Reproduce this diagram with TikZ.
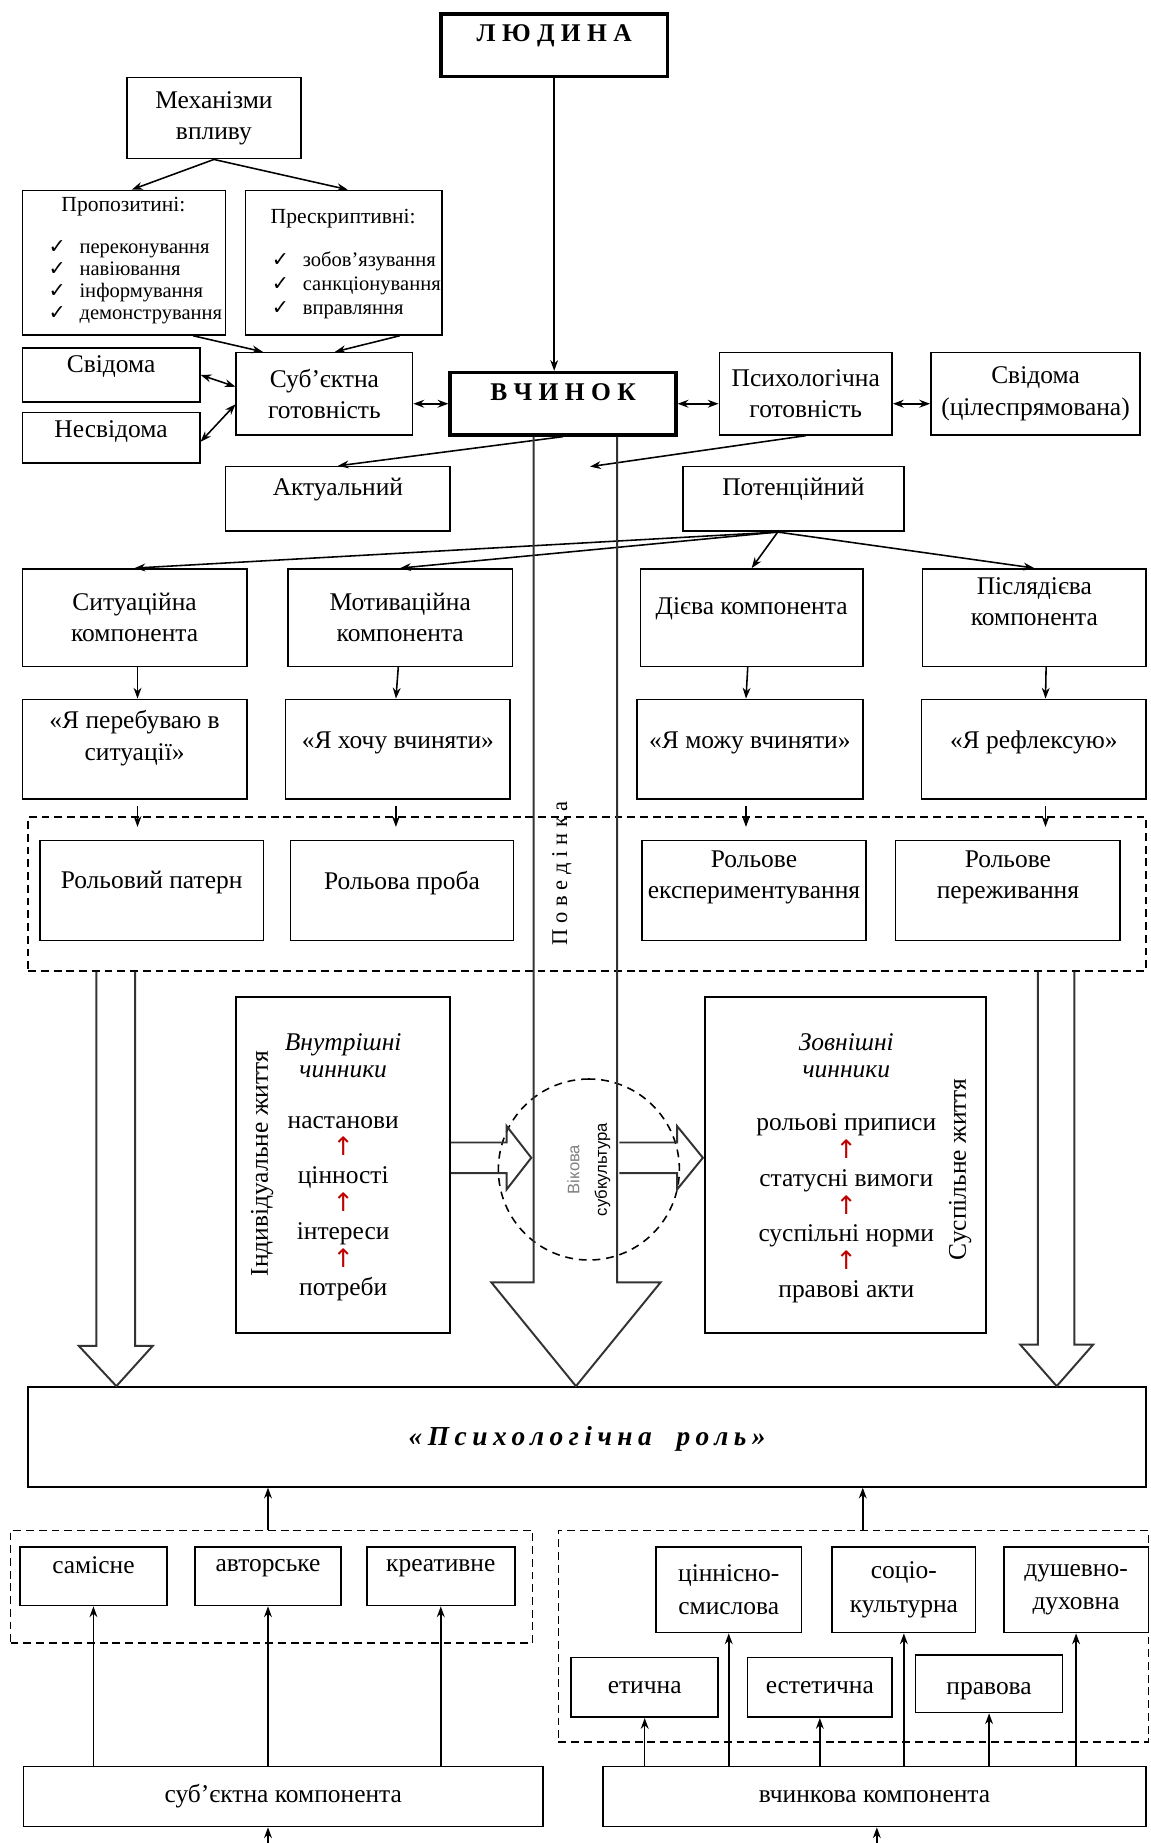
\documentclass[tikz,border=0pt]{standalone}
\usepackage{fontspec}
\setmainfont{Liberation Serif}
\newfontfamily\symfont{DejaVu Sans}
\newfontfamily\sansfont{Liberation Sans}
\newfontfamily\rolefont[LetterSpace=20]{Liberation Serif}
\usetikzlibrary{arrows.meta, positioning, shapes.geometric}

\newcommand{\chk}{{\symfont ✓}}
\newcommand{\redup}{{\color{red!75!black}\symfont ↑}}

\tikzset{
  corners/.style args={#1/#2/#3/#4}{at={({(#1+#3)/2},{(#2+#4)/2})},
    minimum width={(#3-#1)*0.6pt}, minimum height={(#4-#2)*0.6pt}},
  box/.style={draw, line width=0.8pt, inner sep=0pt, align=center,
    font=\fontsize{13}{16}\selectfont},
  heavy/.style={box, line width=1.8pt, font=\fontsize{13}{16}\selectfont\bfseries},
  dashbox/.style={draw, line width=0.8pt, inner sep=0pt, dash pattern=on 4pt off 2.5pt},
  txt/.style={inner sep=0pt, align=center, font=\fontsize{13}{16}\selectfont},
  listtxt/.style={inner sep=0pt, align=left, font=\fontsize{10.5}{11.2}\selectfont},
  arr/.style={->, line width=0.8pt},
  darr/.style={<->, line width=0.8pt},
  hollow/.style={draw=black!80, line width=1pt, line join=miter}
}

\begin{document}
\begin{tikzpicture}[x=0.6pt, y=-0.6pt, >={Stealth[length=5.5pt,width=4pt]}]
\useasboundingbox (0,0) rectangle (979,1568);

% top part
\node[heavy, corners=375/12/568/65, text depth=12.8pt] (lyud) {Л Ю Д И Н А};
\node[box, corners=108/66/256/135] (mech) {Механізми\\впливу};
\node[box, corners=19/162/192/285] (propoz) {};
\node[box, corners=209/162/376/285] (presk) {};
\node[txt, font=\fontsize{11}{13}\selectfont] (propoztitle) at (105,176) {Пропозитині:};
\node[listtxt, anchor=west] (propozlist) at (41,240)
  {\chk\hspace{7pt}переконування\\\chk\hspace{7pt}навіювання\\\chk\hspace{7pt}інформування\\\chk\hspace{7pt}демонстрування};
\node[txt, font=\fontsize{11}{13}\selectfont] (presktitle) at (292,186) {Прескриптивні:};
\node[listtxt, anchor=west, font=\fontsize{10.5}{12.3}\selectfont] (presklist) at (231,242.5)
  {\chk\hspace{7pt}зобов’язування\\\chk\hspace{7pt}санкціонування\\\chk\hspace{7pt}вправляння};

\node[box, corners=19/296/170/342, text depth=10.9pt] (svid) {Свідома};
\node[box, corners=19/351/170/394, text depth=9.1pt] (nesvid) {Несвідома};
\node[box, corners=201/300/351/370] (subj) {Суб’єктна\\готовність};
\node[heavy, corners=383/317/575/370, text depth=11.6pt] (vchynok) {В Ч И Н О К};
\node[box, corners=612/300/759/370] (psych) {Психологічна\\готовність};
\node[box, corners=792/300/970/370] (svid2) {Свідома\\(цілеспрямована)};
\node[box, corners=192/397/383/452, text depth=12.8pt] (aktual) {Актуальний};
\node[box, corners=581/397/769/452, text depth=12.8pt] (potent) {Потенційний};

% components
\node[box, corners=19/484/210/567] (sit) {Ситуаційна\\компонента};
\node[box, corners=245/484/436/567] (motiv) {Мотиваційна\\компонента};
\node[box, corners=545/484/734/567, text depth=11.6pt] (diev) {Дієва компонента};
\node[box, corners=785/484/975/567, text depth=16.4pt] (pisl) {Післядієва\\компонента};
\node[box, corners=19/595/210/680, text depth=14.2pt] (ya1) {«Я перебуваю в\\ситуації»};
\node[box, corners=243/595/434/680, text depth=9.4pt] (ya2) {«Я хочу вчиняти»};
\node[box, corners=542/595/734/680, text depth=9.4pt] (ya3) {«Я можу вчиняти»};
\node[box, corners=784/595/975/680, text depth=9.4pt] (ya4) {«Я рефлексую»};

\node[dashbox, corners=24/695/975/826] (behav) {};
\node[box, corners=34/715/224/800, text depth=10.6pt] (rol1) {Рольовий патерн};
\node[box, corners=247/715/437/800, text depth=10.6pt] (rol2) {Рольова проба};
\node[box, corners=546/715/737/800, text depth=16pt] (rol3) {Рольове\\експериментування};
\node[box, corners=762/715/953/800, text depth=16pt] (rol4) {Рольове\\переживання};
\node[txt, rotate=90, font=\fontsize{11.5}{14}\selectfont] (behavtxt) at (478,743) {П о в е д і н к а};

% factors
\node[box, corners=201/848/383/1134] (vnutr) {};
\node[txt, font=\fontsize{13}{14}\selectfont\itshape] (vnutrtitle) at (292,898) {Внутрішні\\чинники};
\node[txt, font=\fontsize{13}{14.2}\selectfont] (vnutrlist) at (292,1028)
  {настанови\\\redup\\цінності\\\redup\\інтереси\\\redup\\потреби};
\node[txt, rotate=90] (indiv) at (223,990) {Індивідуальне життя};

\node[box, corners=600/848/839/1134] (zovn) {};
\node[txt, font=\fontsize{13}{14}\selectfont\itshape] (zovntitle) at (720,898) {Зовнішні\\чинники};
\node[txt, font=\fontsize{13}{14.2}\selectfont] (zovnlist) at (720,1028)
  {рольові приписи\\\redup\\статусні вимоги\\\redup\\суспільні норми\\\redup\\правові акти};
\node[txt, rotate=90] (susp) at (817,995) {Суспільне життя};

\node[circle, draw, line width=0.8pt, dash pattern=on 4pt off 3pt, minimum size=92.4pt,
  inner sep=0pt, rotate=90, align=center, font=\sansfont\fontsize{8.5}{14}\selectfont]
  (vikova) at (501,995) {\textcolor{gray}{Вікова}\\субкультура};

\node[box, corners=24/1180/975/1265, text height=12pt,
  font=\rolefont\fontsize{14}{16}\selectfont\bfseries\itshape] (role) {«Психологічна\ \ роль»};

% bottom part
\node[dashbox, corners=9/1302/453/1398] (dashL) {};
\node[dashbox, corners=475/1302/977/1482] (dashR) {};
\node[box, corners=17/1316/142/1366, text depth=11pt] (samisne) {самісне};
\node[box, corners=166/1316/290/1366, text depth=11pt] (avtor) {авторське};
\node[box, corners=312/1316/438/1366, text depth=11pt] (kreat) {креативне};
\node[box, corners=558/1316/682/1389, font=\fontsize{13}{17}\selectfont] (cinn) {ціннісно-\\смислова};
\node[box, corners=708/1316/830/1389, font=\fontsize{13}{17}\selectfont] (socio) {соціо-\\культурна};
\node[box, corners=854/1316/977/1389, font=\fontsize{13}{17}\selectfont] (dush) {душевно-\\духовна};
\node[box, corners=486/1410/611/1461] (etych) {етична};
\node[box, corners=636/1410/759/1461] (estet) {естетична};
\node[box, corners=779/1408/904/1457, text height=14pt] (pravova) {правова};
\node[box, corners=20/1503/462/1554] (subcomp) {суб’єктна компонента};
\node[box, corners=513/1503/975/1554] (vchcomp) {вчинкова компонента};

% connectors
\draw[arr] (lyud.south) -- (lyud.south |- vchynok.north);
\draw[arr] (mech.south) -- ([xshift=4pt]propoz.north);
\draw[arr] (mech.south) -- ([xshift=2pt]presk.north);
\draw[arr] ([xshift=-17pt]propoz.south east) -- ([xshift=14pt]subj.north west);
\draw[arr] ([xshift=-22pt]presk.south east) -- ([xshift=-40pt]subj.north east);
\draw[darr] (svid.east) -- ([yshift=3.6pt]subj.west);
\draw[darr] ([yshift=-2pt]nesvid.east) -- ([yshift=-5.4pt]subj.west);
\draw[darr] (subj.east |- vchynok.west) -- (vchynok.west);
\draw[darr] (vchynok.east) -- (psych.west |- vchynok.east);
\draw[darr] (psych.east |- vchynok.east) -- (svid2.west |- vchynok.east);
\draw[arr] (vchynok.south) -- (aktual.north);
\coordinate (shaftin) at (502,397);
\draw[arr] (psych.south) -- (shaftin);

\foreach \t in {sit, motiv, diev, pisl}
  \draw[arr] ([xshift=-8pt]potent.south) -- (\t.north);
\foreach \a/\b/\c/\s in {sit/ya1/rol1/1.5pt, motiv/ya2/rol2/-1pt, diev/ya3/rol3/-2pt, pisl/ya4/rol4/6pt}{
  \draw[arr] ([xshift=\s]\a.south) -- ([xshift=\s]\b.north);
  \draw[arr, shorten <=3pt, shorten >=6.5pt] ([xshift=\s]\b.south) -- ([xshift=\s]\b.south |- \c.north);
}

% hollow arrows
\draw[hollow] (454,0 |- vchynok.south) -- (454,1091) -- (418,1091) -- (490,0 |- role.north)
  -- (562,1091) -- (525,1091) -- (525,0 |- vchynok.south);
\draw[hollow] (82,0 |- behav.south) -- (82,1145) -- (67,1145) -- (99,0 |- role.north)
  -- (130,1145) -- (115,1145) -- (115,0 |- behav.south);
\draw[hollow] (883,0 |- behav.south) -- (883,1144) -- (868,1144) -- (899,0 |- role.north)
  -- (930,1144) -- (914,1144) -- (914,0 |- behav.south);
\draw[hollow] (vnutr.east |- 0,972) -- (431,972) -- (431,958) -- (452,985) -- (431,1012)
  -- (431,998) -- (vnutr.east |- 0,998);
\draw[hollow] (527,972) -- (576,972) -- (576,958) -- (598,985) -- (576,1012)
  -- (576,998) -- (527,998);

\draw[arr] (avtor.north |- dashL.north) -- (avtor.north |- role.south);
\coordinate (rtop) at ([xshift=4.8pt]dashR.north);
\draw[arr] (rtop) -- (rtop |- role.south);
\foreach \b in {samisne, avtor, kreat}
  \draw[arr] (\b.south |- subcomp.north) -- (\b.south);
\foreach \b in {etych, cinn, estet, socio, pravova, dush}
  \draw[arr] (\b.south |- vchcomp.north) -- (\b.south);
\coordinate (inL) at (228,1568);
\coordinate (inR) at (746,1568);
\draw[arr] (inL) -- (inL |- subcomp.south);
\draw[arr] (inR) -- (inR |- vchcomp.south);
\end{tikzpicture}
\end{document}
